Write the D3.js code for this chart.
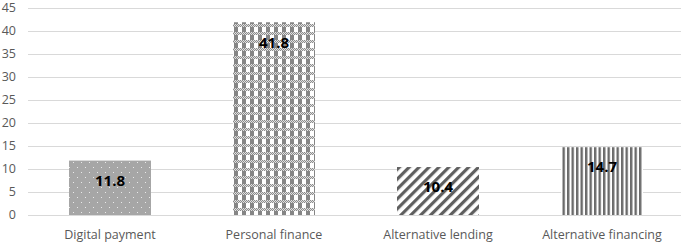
<!DOCTYPE html>
<html><head><meta charset="utf-8">
<script src="https://cdn.jsdelivr.net/npm/d3@7"></script>
<style>body{margin:0;background:#fff}svg{display:block}</style>
</head><body><svg id="c" width="685" height="243"></svg>
<script>
const categories = ["Digital payment","Personal finance","Alternative lending","Alternative financing"];
const values = [11.8, 41.8, 10.4, 14.7];
const yTicks = [0,5,10,15,20,25,30,35,40,45];
const patterns = ["dots","checker","diag","vert"];

const svg = d3.select("#c");
const W = 685, H = 243;
const m = {left: 28, right: 1, top: 7.5, bottom: 28};
const x = d3.scaleBand().domain(categories).range([m.left, W - m.right]).paddingInner(0.5).paddingOuter(0.25);
const y = d3.scaleLinear().domain([0,45]).range([H - m.bottom, m.top]);

const defs = svg.append("defs");
let p = defs.append("pattern").attr("id","dots").attr("patternUnits","userSpaceOnUse").attr("width",8).attr("height",10);
p.append("rect").attr("width",8).attr("height",10).attr("fill","#a6a6a6");
p.append("rect").attr("x",1).attr("y",2).attr("width",1).attr("height",1).attr("fill","#ffffff").attr("opacity",0.75);
p.append("rect").attr("x",5).attr("y",7).attr("width",1).attr("height",1).attr("fill","#ffffff").attr("opacity",0.75);
p = defs.append("pattern").attr("id","checker").attr("patternUnits","userSpaceOnUse").attr("width",8).attr("height",8);
p.append("rect").attr("width",8).attr("height",8).attr("fill","#ffffff");
p.append("rect").attr("x",2).attr("width",4).attr("height",8).attr("fill","#858585");
for (let i=0;i<8;i++){ for(let j=0;j<3;j++){ p.append("rect").attr("x",i).attr("y",j).attr("width",1).attr("height",1).attr("fill", (i+j)%2===0 ? "#8c8c8c" : "#e0e0e0"); } }
p = defs.append("pattern").attr("id","diag").attr("patternUnits","userSpaceOnUse").attr("width",7).attr("height",7).attr("patternTransform","rotate(45)");
p.append("rect").attr("width",7).attr("height",7).attr("fill","#ffffff");
p.append("rect").attr("width",3.2).attr("height",7).attr("fill","#5f5f5f");
p = defs.append("pattern").attr("id","vert").attr("patternUnits","userSpaceOnUse").attr("width",4.5).attr("height",4);
p.append("rect").attr("width",4.5).attr("height",4).attr("fill","#ffffff");
p.append("rect").attr("width",2.4).attr("height",4).attr("fill","#6a6a6a");

svg.append("g").selectAll("line").data(yTicks).join("line")
  .attr("x1", m.left).attr("x2", W - 4)
  .attr("y1", d => Math.round(y(d))+0.5).attr("y2", d => Math.round(y(d))+0.5)
  .attr("stroke","#d9d9d9").attr("stroke-width",1);

const font = "'Open Sans', sans-serif";
svg.append("g").selectAll("text").data(yTicks).join("text")
  .attr("x", 16).attr("y", d => y(d)).attr("dy","0.35em")
  .attr("text-anchor","end").attr("fill","#595959")
  .style("font-family", font).style("font-size","12.5px").text(d => d);

svg.append("g").selectAll("rect").data(categories).join("rect")
  .attr("x", d => x(d)).attr("width", x.bandwidth())
  .attr("y", (d,i) => y(values[i])).attr("height", (d,i) => y(0) - y(values[i]))
  .attr("fill", (d,i) => `url(#${patterns[i]})`);

svg.append("g").selectAll("text").data(categories).join("text")
  .attr("x", d => x(d) + x.bandwidth()/2).attr("y", (d,i) => y(values[i]) + 20).attr("dy","0.35em")
  .attr("text-anchor","middle").attr("fill","#000")
  .style("font-family", font).style("font-size","15px").style("font-weight","bold")
  .text((d,i) => values[i]);

svg.append("g").selectAll("text").data(categories).join("text")
  .attr("x", d => x(d) + x.bandwidth()/2).attr("y", 239)
  .attr("text-anchor","middle").attr("fill","#595959")
  .style("font-family", font).style("font-size","12.5px").text(d => d);
</script></body></html>
